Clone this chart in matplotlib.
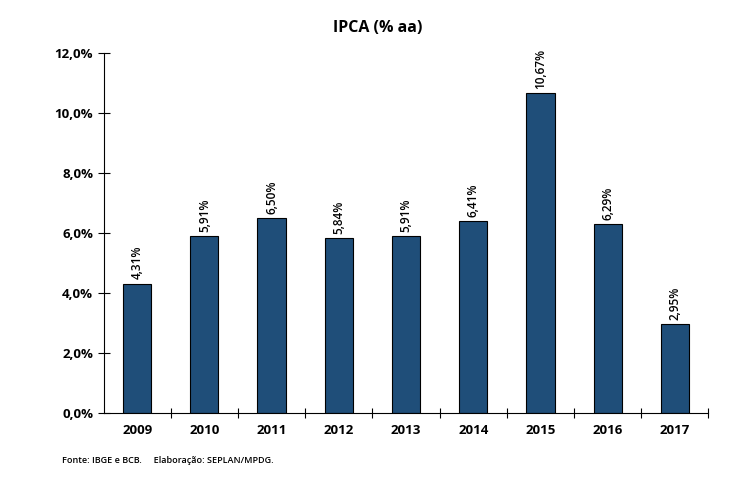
import matplotlib.pyplot as plt
from matplotlib.ticker import FuncFormatter

anos = ['2009', '2010', '2011', '2012', '2013', '2014', '2015', '2016', '2017']
ipca = [4.31, 5.91, 6.50, 5.84, 5.91, 6.41, 10.67, 6.29, 2.95]

plt.rcParams['font.family'] = ['Open Sans', 'DejaVu Sans']

fig = plt.figure(figsize=(7.45, 4.91), dpi=100)
ax = fig.add_axes([0.139, 0.159, 0.812, 0.733])

x = list(range(len(anos)))
ax.bar(x, ipca, width=0.42, color='#1F4E79', edgecolor='black', linewidth=0.8)

# rotulos de valor em cima das barras
for xi, v in zip(x, ipca):
    ax.annotate(f'{v:.2f}%'.replace('.', ','), (xi, v), xytext=(0, 3),
                textcoords='offset points', rotation=90, ha='center', va='bottom',
                fontsize=8.5, fontweight='semibold')

ax.set_xlim(-0.5, len(anos) - 0.5)
ax.set_ylim(0, 12)
ax.set_yticks([0, 2, 4, 6, 8, 10, 12])
ax.yaxis.set_major_formatter(FuncFormatter(lambda v, p: f'{v:.1f}%'.replace('.', ',')))

ax.set_xticks(x)
ax.set_xticklabels(anos)
ax.set_xticks([i - 0.5 for i in range(1, len(anos) + 1)], minor=True)
ax.tick_params(axis='x', which='major', length=0, pad=8)
ax.tick_params(axis='x', which='minor', direction='inout', length=7, width=0.8)
ax.tick_params(axis='y', direction='inout', length=8, width=0.8)
for lbl in ax.get_xticklabels() + ax.get_yticklabels():
    lbl.set_fontsize(9.5)
    lbl.set_fontweight('bold')

for s in ['top', 'right']:
    ax.spines[s].set_visible(False)
ax.spines['left'].set_linewidth(0.8)
ax.spines['bottom'].set_linewidth(0.8)

fig.text(0.507, 0.943, 'IPCA (% aa)', ha='center', va='center', fontsize=11.5, fontweight='bold')

fig.text(0.083, 0.058, 'Fonte: IBGE e BCB.     Elaboração: SEPLAN/MPDG.', fontsize=6.5, fontweight='semibold')

fig.savefig('out.png', dpi=100)
